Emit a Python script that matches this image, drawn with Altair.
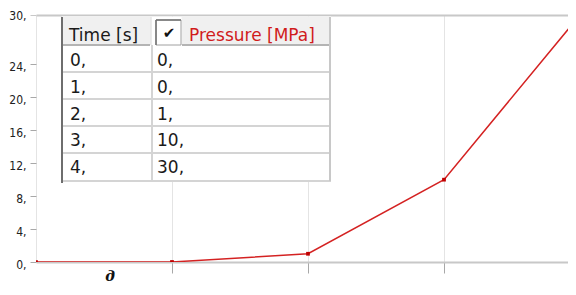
import altair as alt
import pandas as pd

# ---- data ----
time_s = [0, 1, 2, 3, 4]
pressure_mpa = [0, 0, 1, 10, 30]
y_ticks = [0, 4, 8, 12, 16, 20, 24, 30]
x_ticks = [0, 1, 2, 3, 4]
col_headers = ["Time [s]", "Pressure [MPa]"]
footer_text = "д"

# ---- layout ----
PAD_L, PAD_T, PAD_B = 28, 7, 25
W, H = 532, 247
X_MAX = W / 136.0  # visible part of the time axis (point 4 falls just off the window)
RED = "#d42222"

df = pd.DataFrame({"t": time_s, "p": pressure_mpa})

xs = alt.Scale(domain=[0, X_MAX], nice=False, zero=False)
ys = alt.Scale(domain=[0, 30], nice=False)

xaxis = alt.Axis(
    values=x_ticks, labels=False, title=None,
    grid=True, gridColor="#e4e4e4", gridWidth=1,
    domainColor="#c8c8c8", domainWidth=2,
    tickSize=11, tickWidth=1,
    tickColor={"condition": {"test": "datum.value == 0", "value": "transparent"}, "value": "#a8a8a8"},
)
yaxis = alt.Axis(
    values=y_ticks, title=None, domain=False,
    tickSize=6, tickWidth=1,
    tickColor={"condition": {"test": "datum.value == 30", "value": "#c8c8c8"}, "value": "#a8a8a8"},
    labelExpr="datum.value + ','",
    labelFont="DejaVu Sans Condensed", labelFontSize=12, labelColor="#202020",
    labelPadding=4,
    labelOffset={"condition": {"test": "datum.value == 30", "value": 0}, "value": 2},
    grid=True,
    gridColor={"condition": {"test": "datum.value == 30", "value": "#c8c8c8"}, "value": "transparent"},
    gridWidth=2,
)

base = alt.Chart(df)
line = base.mark_line(color=RED, strokeWidth=1.5, clip=True).encode(
    x=alt.X("t:Q", scale=xs, axis=xaxis),
    y=alt.Y("p:Q", scale=ys, axis=yaxis),
)
pts = base.mark_square(color="#c00000", size=14, opacity=1, clip=True).encode(
    x=alt.X("t:Q", scale=xs, axis=xaxis),
    y=alt.Y("p:Q", scale=ys, axis=yaxis),
)
main = alt.layer(line, pts)

# ---- table overlay (pixel coordinates inside the plot area) ----
OX, OY = 8 + PAD_L, 8 + PAD_T  # plot origin on the page
def px(v): return v - OX
def py(v): return v - OY

row_lines = [45, 72, 99, 126, 153, 181]
rects = pd.DataFrame([
    dict(x1=px(62), x2=px(331), y1=py(17), y2=py(181), fill="#ffffff", stroke="#ffffff"),
    dict(x1=px(63), x2=px(150), y1=py(17), y2=py(45), fill="#f0f0f0", stroke="#f0f0f0"),
    dict(x1=px(182), x2=px(330), y1=py(17), y2=py(45), fill="#f0f0f0", stroke="#f0f0f0"),
    dict(x1=px(156), x2=px(181), y1=py(20), y2=py(45), fill="#ffffff", stroke="#a0a0a0"),
])
rect_layer = alt.Chart(rects).mark_rect(strokeWidth=1).encode(
    x=alt.X("x1:Q", scale=None, axis=None), x2="x2:Q",
    y=alt.Y("y1:Q", scale=None, axis=None), y2="y2:Q",
    fill=alt.Fill("fill:N", scale=None, legend=None),
    stroke=alt.Stroke("stroke:N", scale=None, legend=None),
)

rules = []
for yy in row_lines[1:]:
    rules.append(dict(x1=px(62), x2=px(331), y1=py(yy), y2=py(yy), c="#d4d4d4", w=2))
rules.append(dict(x1=px(63), x2=px(150), y1=py(45), y2=py(45), c="#b4b4b4", w=2))
rules.append(dict(x1=px(182), x2=px(331), y1=py(45), y2=py(45), c="#b4b4b4", w=2))
rules.append(dict(x1=px(152), x2=px(152), y1=py(45), y2=py(181), c="#d4d4d4", w=2))
rules.append(dict(x1=px(151), x2=px(151), y1=py(17), y2=py(45), c="#d8d8d8", w=1))
rules.append(dict(x1=px(156), x2=px(156), y1=py(20), y2=py(45), c="#707070", w=1.5))
rules.append(dict(x1=px(156), x2=px(181), y1=py(20), y2=py(20), c="#707070", w=1.5))
rules.append(dict(x1=px(330), x2=px(330), y1=py(17), y2=py(181), c="#c8c8c8", w=2))
rules.append(dict(x1=px(62), x2=px(62), y1=py(17), y2=py(183), c="#6e6e6e", w=2))
rules_df = pd.DataFrame(rules)
rule_layer = alt.Chart(rules_df).mark_rule().encode(
    x=alt.X("x1:Q", scale=None, axis=None), x2="x2:Q",
    y=alt.Y("y1:Q", scale=None, axis=None), y2="y2:Q",
    color=alt.Color("c:N", scale=None, legend=None),
    strokeWidth=alt.StrokeWidth("w:Q", scale=None, legend=None),
)

TFONT = "DejaVu Sans"
TSIZE = 17
hdr = pd.DataFrame({
    "label": col_headers,
    "x": [px(69), px(189)],
    "y": [py(41), py(41)],
    "c": ["#1a1a1a", "#d01c1c"],
})
hdr_layer = alt.Chart(hdr).mark_text(align="left", baseline="alphabetic", font=TFONT, fontSize=TSIZE).encode(
    x=alt.X("x:Q", scale=None, axis=None),
    y=alt.Y("y:Q", scale=None, axis=None),
    text="label:N",
    color=alt.Color("c:N", scale=None, legend=None),
)
check_layer = alt.Chart(pd.DataFrame({"s": ["✔"]})).mark_text(
    align="center", baseline="middle", font=TFONT, fontSize=15, color="#111111"
).encode(x=alt.value(px(169)), y=alt.value(py(33)), text="s:N")

cells = []
for i, (t, p) in enumerate(zip(time_s, pressure_mpa)):
    yb = py(66 + i * 26.8)
    cells.append(dict(label=f"{t},", x=px(70), y=yb))
    cells.append(dict(label=f"{p},", x=px(157), y=yb))
cells_df = pd.DataFrame(cells)
cell_layer = alt.Chart(cells_df).mark_text(
    align="left", baseline="alphabetic", font=TFONT, fontSize=TSIZE, color="#1a1a1a"
).encode(
    x=alt.X("x:Q", scale=None, axis=None),
    y=alt.Y("y:Q", scale=None, axis=None),
    text="label:N",
)

footer_layer = alt.Chart(pd.DataFrame({"s": [footer_text]})).mark_text(
    align="center", baseline="alphabetic", font="DejaVu Serif", fontSize=14,
    fontStyle="italic", fontWeight="bold", color="#111111"
).encode(x=alt.value(px(110)), y=alt.value(py(281)), text="s:N")

table = alt.layer(rect_layer, rule_layer, hdr_layer, check_layer, cell_layer, footer_layer)

chart = alt.layer(main, table).resolve_scale(
    x="independent", y="independent", color="independent", stroke="independent", fill="independent"
).properties(
    width=W, height=H,
    autosize=alt.AutoSizeParams(type="none"),
    padding={"left": PAD_L, "top": PAD_T, "right": 0, "bottom": PAD_B},
    background="#ffffff",
).configure_view(stroke=None)

chart.save("out.html", embed_options={"renderer": "svg", "actions": False})
